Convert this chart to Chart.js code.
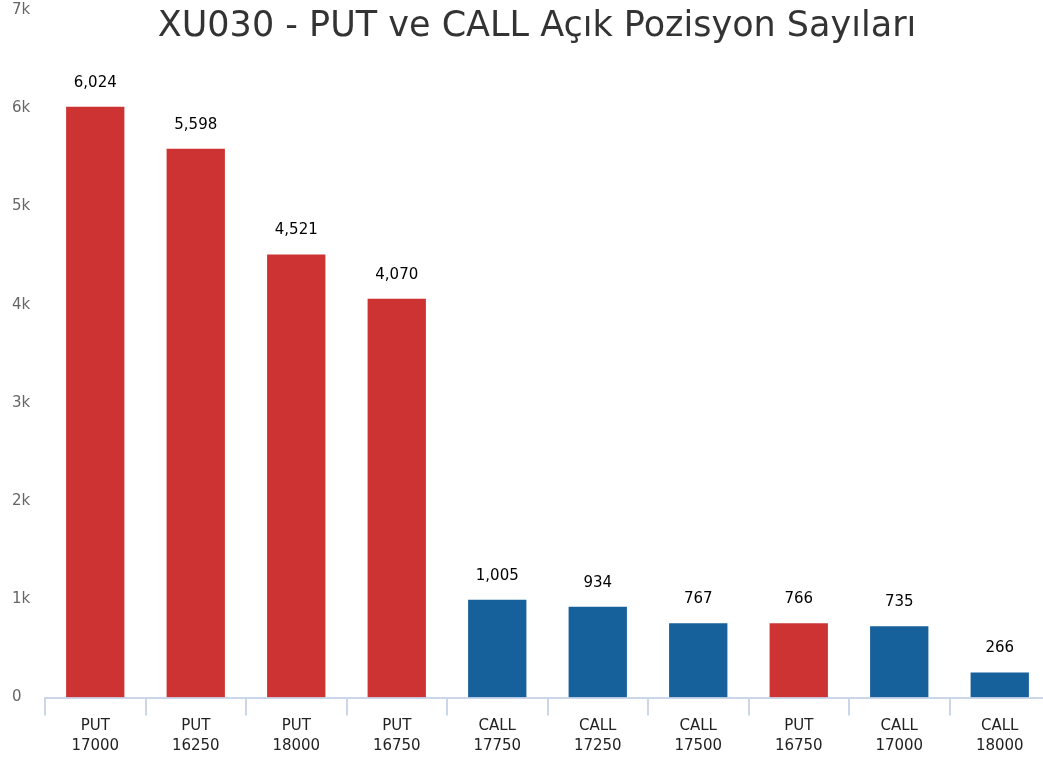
<!DOCTYPE html>
<html>
<head>
<meta charset="utf-8">
<script src="https://cdn.jsdelivr.net/npm/chart.js@4"></script>
<style>
  body { margin: 0; background: #fff; overflow: hidden; }
  #wrap { width: 1050px; height: 758px; }
</style>
</head>
<body>
<div id="wrap"><canvas id="oiChart"></canvas></div>
<script>
const types = ["PUT", "PUT", "PUT", "PUT", "CALL", "CALL", "CALL", "PUT", "CALL", "CALL"];
const strikes = ["17000", "16250", "18000", "16750", "17750", "17250", "17500", "16750", "17000", "18000"];
const openInterest = [6024, 5598, 4521, 4070, 1005, 934, 767, 766, 735, 266];
const yTicks = [0, 1000, 2000, 3000, 4000, 5000, 6000, 7000];

const titleText = "XU030 - PUT ve CALL Açık Pozisyon Sayıları";
const FONT = "'DejaVu Sans', Verdana, sans-serif";

// renkler: PUT kirmizi, CALL mavi
const barColors = types.map(t => t === "PUT" ? "#cd3333" : "#16609c");

// baslik ve bar uzerindeki degerler
const overlayPlugin = {
  id: "overlay",
  afterDraw(chart) {
    const ctx = chart.ctx;
    ctx.save();
    ctx.fillStyle = "#333333";
    ctx.font = "35px " + FONT;
    ctx.textAlign = "center";
    ctx.textBaseline = "middle";
    ctx.fillText(titleText, 537, 27);

    const meta = chart.getDatasetMeta(0);
    ctx.fillStyle = "#000000";
    ctx.font = "15px " + FONT;
    meta.data.forEach((bar, i) => {
      ctx.fillText(openInterest[i].toLocaleString("en-US"), bar.x, bar.y - 23);
    });
    ctx.restore();
  }
};

const ctx = document.getElementById("oiChart").getContext("2d");
new Chart(ctx, {
  type: "bar",
  data: {
    labels: types.map((t, i) => [t, strikes[i]]),
    datasets: [{
      data: openInterest,
      backgroundColor: barColors,
      borderColor: "#ffffff",
      borderWidth: 1,
      categoryPercentage: 1,
      barPercentage: 0.6
    }]
  },
  options: {
    responsive: true,
    maintainAspectRatio: false,
    animation: false,
    layout: { padding: { top: 10, left: 12, right: 0, bottom: 2 } },
    plugins: {
      legend: { display: false },
      tooltip: { enabled: false }
    },
    scales: {
      x: {
        grid: {
          display: true,
          offset: true,
          drawOnChartArea: false,
          drawTicks: true,
          tickLength: 18,
          color: "#ccd6eb",
          lineWidth: 2
        },
        border: { display: true, color: "#ccd6eb", width: 2 },
        ticks: {
          color: "#222222",
          font: { family: FONT, size: 15, lineHeight: 1.35 },
          padding: 0,
          maxRotation: 0,
          autoSkip: false
        }
      },
      y: {
        min: 0,
        max: 7000,
        afterBuildTicks: axis => { axis.ticks = yTicks.map(v => ({ value: v })); },
        afterFit: axis => { axis.width = 33; },
        grid: { display: false },
        border: { display: false },
        ticks: {
          color: "#666666",
          font: { family: FONT, size: 15 },
          crossAlign: "far",
          padding: 0,
          callback: v => v === 0 ? "0" : (v / 1000) + "k"
        }
      }
    }
  },
  plugins: [overlayPlugin]
});
</script>
</body>
</html>
